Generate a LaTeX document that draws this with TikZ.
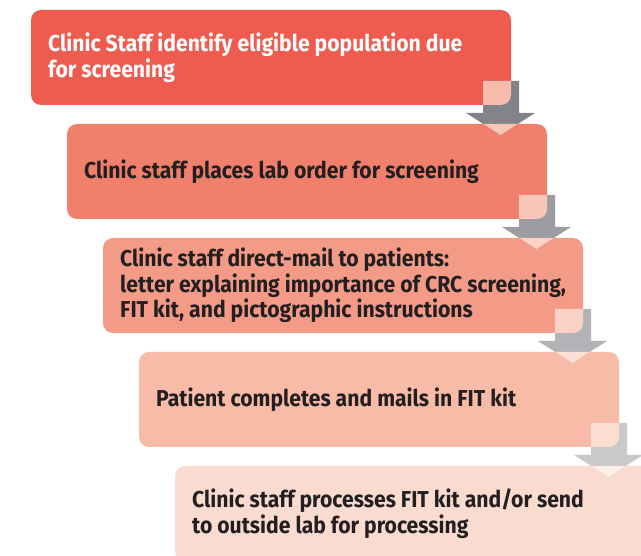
\documentclass[tikz,border=0pt]{standalone}
\usepackage{fontspec}
\setmainfont[FakeStretch=0.92]{Fira Sans}
\definecolor{bA}{RGB}{238,92,80}
\definecolor{bB}{RGB}{240,128,108}
\definecolor{bC}{RGB}{243,155,135}
\definecolor{bD}{RGB}{247,187,168}
\definecolor{bE}{RGB}{250,219,208}
\definecolor{gA}{RGB}{131,132,137}
\definecolor{gB}{RGB}{156,157,161}
\definecolor{gC}{RGB}{178,179,183}
\definecolor{gD}{RGB}{200,201,203}
\definecolor{pA1}{RGB}{246,187,170}
\definecolor{pA2}{RGB}{248,198,182}
\definecolor{pB1}{RGB}{249,199,185}
\definecolor{pB2}{RGB}{250,210,196}
\definecolor{pC1}{RGB}{251,211,197}
\definecolor{pC2}{RGB}{252,224,214}
\definecolor{pD1}{RGB}{251,221,210}
\definecolor{pD2}{RGB}{253,238,232}
\definecolor{txt}{RGB}{35,31,32}
\newcommand\arrowshape{(-28,-24) -- (8,-24) -- (8,8) -- (24,8) -- (-10.5,30) -- (-45,8) -- (-28,8) -- cycle}
\newcommand\stepdown[5]{%
  \fill[#2] [shift={(#1.south east)}] \arrowshape;
  \begin{scope}
    \clip[rounded corners=10pt] (#1.north west) rectangle (#1.south east);
    \fill[#3] [shift={(#1.south east)}] \arrowshape;
  \end{scope}
  \begin{scope}
    \clip[rounded corners=10pt] (#5.north west) rectangle (#5.south east);
    \fill[#4] [shift={(#1.south east)}] \arrowshape;
  \end{scope}
}
\begin{document}
\begin{tikzpicture}[x=1pt,y=-1pt,
  stepbox/.style={anchor=north west, rounded corners=10pt, minimum height=95pt,
    minimum width=480pt, inner sep=0pt, outer sep=0pt},
  steptext/.style={anchor=west, inner sep=0pt, align=left,
    font=\fontsize{23}{25.5}\selectfont\bfseries, text=txt}]
\useasboundingbox (0,0) rectangle (641,556);
\clip (0,0) rectangle (641,556);
\node[stepbox, fill=bA] (b1) at (31,10) {};
\node[stepbox, fill=bB] (b2) at (67,124) {};
\node[stepbox, fill=bC] (b3) at (103,238) {};
\node[stepbox, fill=bD] (b4) at (139,352) {};
\node[stepbox, fill=bE] (b5) at (175,466) {};
\node[steptext, text=white] (t1) at ([xshift=17pt]b1.west) {Clinic Staff identify eligible population due\\for screening};
\node[steptext] (t2) at ([xshift=17pt]b2.west) {Clinic staff places lab order for screening};
\node[steptext] (t3) at ([xshift=17pt]b3.west) {Clinic staff direct-mail to patients:\\letter explaining importance of CRC screening,\\FIT kit, and pictographic instructions};
\node[steptext] (t4) at ([xshift=17pt]b4.west) {Patient completes and mails in FIT kit};
\node[steptext] (t5) at ([xshift=17pt]b5.west) {Clinic staff processes FIT kit and/or send\\to outside lab for processing};
\stepdown{b1}{gA}{pA1}{pA2}{b2}
\stepdown{b2}{gB}{pB1}{pB2}{b3}
\stepdown{b3}{gC}{pC1}{pC2}{b4}
\stepdown{b4}{gD}{pD1}{pD2}{b5}
\end{tikzpicture}
\end{document}
